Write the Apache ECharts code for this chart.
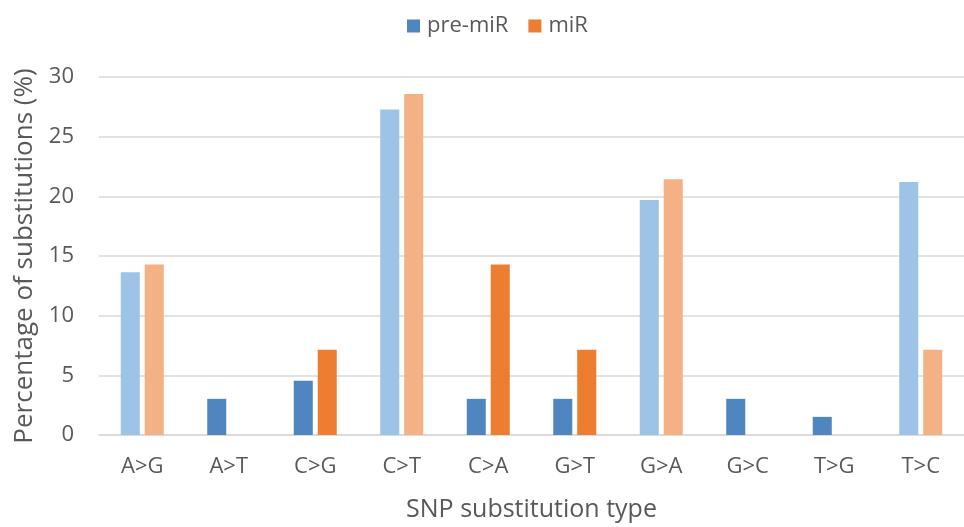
<!DOCTYPE html>
<html>
<head>
<meta charset="utf-8">
<script src="https://cdn.jsdelivr.net/npm/echarts@6/dist/echarts.min.js"></script>
<style>
  html, body { margin: 0; padding: 0; background: #fff; overflow: hidden; }
  #chart { width: 964px; height: 527px; }
</style>
</head>
<body>
<div id="chart"></div>
<script>
// SNP substitution types
const categories = ['A>G', 'A>T', 'C>G', 'C>T', 'C>A', 'G>T', 'G>A', 'G>C', 'T>G', 'T>C'];
// Percentage of substitutions per type
const preMiR = [13.64, 3.03, 4.55, 27.27, 3.03, 3.03, 19.70, 3.03, 1.52, 21.21];
const miR = [14.29, 0, 7.14, 28.57, 14.29, 7.14, 21.43, 0, 0, 7.14];
// Transitions are drawn in a lighter shade
const transitions = ['A>G', 'C>T', 'G>A', 'T>C'];
const yTicks = [0, 5, 10, 15, 20, 25, 30];

const BLUE = '#4F86BF', BLUE_LIGHT = '#9DC3E6';
const ORANGE = '#ED7D31', ORANGE_LIGHT = '#F4B183';
const TEXT = '#595959';
const FONT = 'Open Sans';

function shaded(values, dark, light) {
  return values.map((v, i) => ({
    value: v,
    itemStyle: { color: transitions.includes(categories[i]) ? light : dark }
  }));
}

const chart = echarts.init(document.getElementById('chart'));
chart.setOption({
  animation: false,
  textStyle: { fontFamily: FONT, color: TEXT },
  legend: {
    top: 10,
    left: 402,
    itemWidth: 13,
    itemHeight: 13,
    itemGap: 20,
    icon: 'rect',
    textStyle: { fontSize: 22, color: TEXT, fontFamily: FONT, padding: [0, 0, 0, 2] },
    data: [
      { name: 'pre-miR', itemStyle: { color: BLUE } },
      { name: 'miR', itemStyle: { color: ORANGE } }
    ]
  },
  // plot area runs a little past the right edge of the canvas
  grid: { left: 99, width: 876, top: 77, bottom: 88 },
  xAxis: {
    type: 'category',
    data: categories,
    name: 'SNP substitution type',
    nameLocation: 'middle',
    nameGap: 62,
    nameTextStyle: { fontSize: 25, color: TEXT, fontFamily: FONT },
    axisLine: { show: true, lineStyle: { color: '#D9D9D9', width: 1.5 } },
    axisTick: { show: false },
    axisLabel: { fontSize: 22, color: TEXT, margin: 21, fontFamily: FONT }
  },
  yAxis: {
    type: 'value',
    min: yTicks[0],
    max: yTicks[yTicks.length - 1],
    interval: 5,
    name: 'Percentage of substitutions (%)',
    nameLocation: 'middle',
    nameGap: 60,
    nameTextStyle: { fontSize: 26, color: TEXT, fontFamily: FONT },
    axisLine: { show: false },
    axisTick: { show: false },
    axisLabel: { fontSize: 22, color: TEXT, margin: 25, fontFamily: FONT },
    splitLine: { lineStyle: { color: '#D9D9D9', width: 1.5 } }
  },
  series: [
    {
      name: 'pre-miR',
      type: 'bar',
      itemStyle: { color: BLUE },
      data: shaded(preMiR, BLUE, BLUE_LIGHT),
      barWidth: '22%',
      barGap: '26%'
    },
    {
      name: 'miR',
      type: 'bar',
      itemStyle: { color: ORANGE },
      data: shaded(miR, ORANGE, ORANGE_LIGHT),
      barWidth: '22%',
      barGap: '26%'
    }
  ]
});
</script>
</body>
</html>
